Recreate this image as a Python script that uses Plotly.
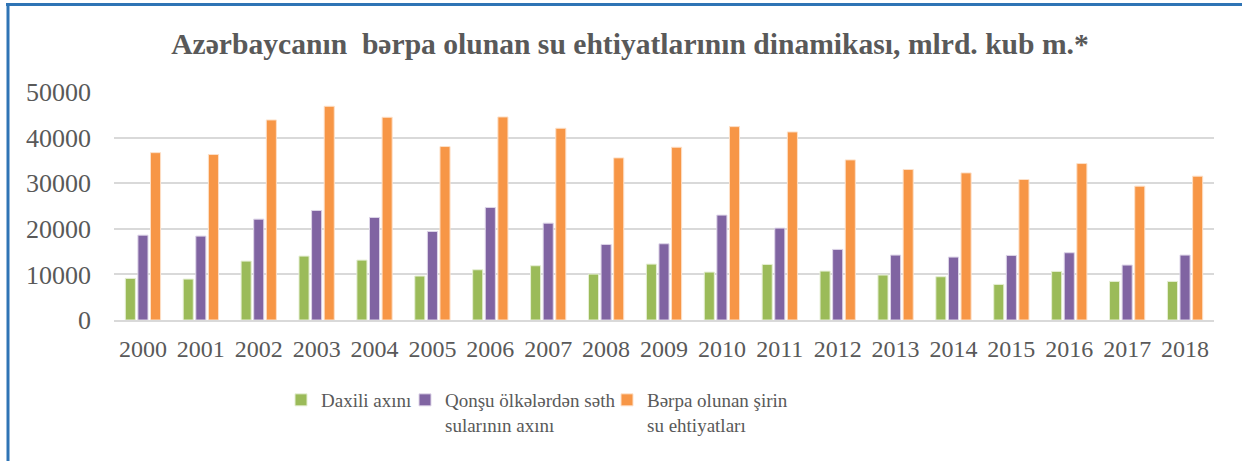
import plotly.graph_objects as go

years = [str(y) for y in range(2000, 2019)]
daxili = [9130, 8980, 12920, 14020, 13140, 9640, 11020, 11900, 10070, 12260,
          10510, 12190, 10730, 9860, 9490, 7810, 10660, 8470, 8470]
qonsu = [18600, 18400, 22120, 24020, 22490, 19420, 24680, 21240, 16570, 16720,
         23000, 20150, 15480, 14240, 13800, 14160, 14750, 12050, 14240]
berpa = [36700, 36290, 43870, 46870, 44460, 38040, 44530, 42050, 35550, 37890,
         42410, 41240, 35110, 33000, 32260, 30810, 34310, 29350, 31540]
y_ticks = [0, 10000, 20000, 30000, 40000, 50000]

names = ["Daxili axını", "Qonşu ölkələrdən səth<br>sularının axını",
         "Bərpa olunan şirin<br>su ehtiyatları"]
colors = ["#9BBB59", "#8064A2", "#F79646"]
outlines = ["#E6EFD5", "#DDD5E8", "#FDE0C8"]
legend_ids = ["legend", "legend2", "legend3"]

L, R, T, B = 114, 28, 92, 141
W, H = 1242, 461
ph = H - T - B
pw = W - L - R

fig = go.Figure()
for vals, nm, c, oc, lg in zip([daxili, qonsu, berpa], names, colors, outlines, legend_ids):
    fig.add_trace(go.Bar(x=years, y=vals, name=nm, legend=lg,
                         marker=dict(color=c, line=dict(color=oc, width=1))))

FF = "Liberation Serif"
GRAY = "#595959"


def leg(px_left):
    return dict(orientation="h", x=(px_left - L) / pw, xanchor="left",
                y=(320 - 381) / ph, yanchor="top", valign="top",
                font=dict(family=FF, size=19, color=GRAY),
                bgcolor="rgba(0,0,0,0)", itemclick=False)


fig.update_layout(
    width=W, height=H,
    margin=dict(l=L, r=R, t=T, b=B, autoexpand=False),
    paper_bgcolor="white", plot_bgcolor="white",
    barmode="group", bargap=0.347, bargroupgap=0.2,
    font=dict(family=FF, color=GRAY),
    title=dict(text="<b>Azərbaycanın  bərpa olunan su ehtiyatlarının dinamikası, mlrd. kub m.*</b>",
               x=(630 - L) / pw, xref="paper", xanchor="center",
               y=1 - 44 / H, yanchor="middle",
               font=dict(family=FF, size=29.6, color=GRAY)),
    xaxis=dict(type="category", showgrid=False, showline=True,
               linecolor="#D9D9D9", linewidth=2, automargin=False,
               tickfont=dict(family=FF, size=24, color=GRAY), ticks="",
               ticklabelstandoff=6),
    yaxis=dict(range=[0, 50000], tickvals=y_ticks, tickformat="d",
               showgrid=True, gridcolor="#D9D9D9", gridwidth=1.5,
               zeroline=False, showline=False, automargin=False,
               tickfont=dict(family=FF, size=26, color=GRAY), ticks="",
               ticklabelstandoff=22),
    legend=leg(281),
    legend2=leg(405),
    legend3=leg(607),
    showlegend=True,
)

border = "#2F74B5"
fig.add_shape(type="line", xref="paper", yref="paper",
              x0=(8 - L) / pw, x1=(8 - L) / pw,
              y0=(320 - 470) / ph, y1=(320 - 3) / ph,
              line=dict(color=border, width=3))
fig.add_shape(type="line", xref="paper", yref="paper",
              x0=(6 - L) / pw, x1=(1250 - L) / pw,
              y0=(320 - 4.5) / ph, y1=(320 - 4.5) / ph,
              line=dict(color=border, width=3))

fig.write_html("out.html", config={"displayModeBar": False},
               post_script="document.body.style.margin='0';document.body.style.overflow='hidden';")
